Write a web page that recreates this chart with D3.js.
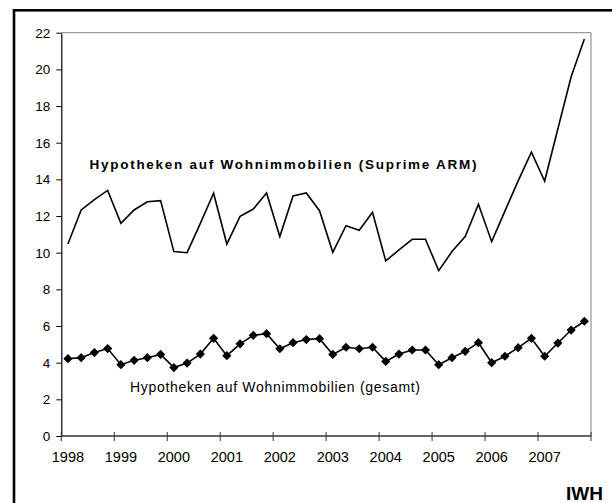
<!DOCTYPE html>
<html>
<head>
<meta charset="utf-8">
<script src="https://cdn.jsdelivr.net/npm/d3@7"></script>
<style>
  html, body { margin: 0; padding: 0; background: #fff; }
  svg { display: block; font-family: "Liberation Sans", Arial, sans-serif; }
</style>
</head>
<body>
<svg id="chart" width="612" height="503"></svg>
<script>
// ---- data ----
const years = ["1998","1999","2000","2001","2002","2003","2004","2005","2006","2007"];
const quarters = ["Q1","Q2","Q3","Q4"];
const categories = years.flatMap(y => quarters.map(q => y + q));

const subprimeARM = [
  10.47, 12.33, 12.9, 13.4, 11.6, 12.33, 12.78, 12.84,
  10.06, 10.0, 11.6, 13.24, 10.47, 11.98, 12.38, 13.26,
  10.88, 13.09, 13.26, 12.29, 10.02, 11.47, 11.22, 12.2,
  9.55, 10.15, 10.73, 10.73, 9.02, 10.06, 10.88, 12.64,
  10.6, 12.27, 13.92, 15.48, 13.91, 16.76, 19.6, 21.66
];
const gesamt = [
  4.22, 4.27, 4.55, 4.77, 3.89, 4.13, 4.27, 4.45,
  3.73, 3.98, 4.47, 5.33, 4.38, 5.03, 5.49, 5.58,
  4.76, 5.09, 5.26, 5.31, 4.45, 4.84, 4.76, 4.84,
  4.07, 4.47, 4.69, 4.69, 3.89, 4.27, 4.62, 5.09,
  4.0, 4.35, 4.82, 5.33, 4.35, 5.07, 5.78, 6.26
];
const yTicks = [0,2,4,6,8,10,12,14,16,18,20,22];
const labelSubprime = "Hypotheken auf Wohnimmobilien (Suprime ARM)";
const labelGesamt = "Hypotheken auf Wohnimmobilien (gesamt)";
const sourceLabel = "IWH";

// ---- layout ----
const svg = d3.select("#chart");
const L = 61.3, R = 591, T = 32.7, B = 436;

const x = d3.scaleBand().domain(categories).range([L, R]).padding(0);
const y = d3.scaleLinear().domain([0, 22]).range([B, T]);
const cx = c => x(c) + x.bandwidth() / 2;

// outer frame
svg.append("rect")
  .attr("x", 14).attr("y", 10.3).attr("width", 620).attr("height", 520)
  .attr("fill", "none").attr("stroke", "#000").attr("stroke-width", 2.6);

// plot frame (top & right grey)
svg.append("path")
  .attr("d", `M${L},${T}H${R}V${B}`)
  .attr("fill", "none").attr("stroke", "#808080").attr("stroke-width", 1);

// y axis
const yAxis = svg.append("g")
  .attr("transform", `translate(${L},0)`)
  .call(d3.axisLeft(y).tickValues(yTicks).tickSize(5).tickSizeOuter(0).tickPadding(6));
yAxis.select(".domain").attr("stroke", "#000").attr("stroke-width", 1.2);
yAxis.selectAll(".tick line").attr("stroke", "#000");
yAxis.selectAll("text").attr("font-size", 13.5).attr("fill", "#000")
  .attr("font-family", "Liberation Sans, Arial, sans-serif");

// x axis labels
const labelCats = categories.filter((c, i) => i % 4 === 0);
const xAxis = svg.append("g")
  .attr("transform", `translate(0,${B})`)
  .call(d3.axisBottom(x).tickValues(labelCats).tickSize(0).tickPadding(16)
    .tickFormat(c => c.slice(0, 4)));
xAxis.select(".domain").remove();
xAxis.selectAll("text").attr("font-size", 14.5).attr("fill", "#000")
  .attr("font-family", "Liberation Sans, Arial, sans-serif");

// x axis line and boundary ticks
svg.append("line")
  .attr("x1", L).attr("x2", R).attr("y1", B).attr("y2", B)
  .attr("stroke", "#333").attr("stroke-width", 1.3);
const boundaryPos = labelCats.map(c => x(c)).concat([x.range()[1]]);
svg.append("g").selectAll("line").data(boundaryPos).join("line")
  .attr("x1", d => d).attr("x2", d => d)
  .attr("y1", B - 4).attr("y2", B + 5)
  .attr("stroke", "#333").attr("stroke-width", 1);

// lines
const lineGen = d3.line().x((d, i) => cx(categories[i])).y(d => y(d));
svg.append("path").datum(subprimeARM)
  .attr("d", lineGen).attr("fill", "none")
  .attr("stroke", "#000").attr("stroke-width", 1.6).attr("stroke-linejoin", "miter");
svg.append("path").datum(gesamt)
  .attr("d", lineGen).attr("fill", "none")
  .attr("stroke", "#000").attr("stroke-width", 1.6);

// diamond markers
const r = 4.6;
svg.append("g").selectAll("path").data(gesamt).join("path")
  .attr("d", (d, i) => {
    const px = cx(categories[i]), py = y(d);
    return `M${px},${py - r}L${px + r},${py}L${px},${py + r}L${px - r},${py}Z`;
  })
  .attr("fill", "#000");

// series labels
svg.append("text")
  .attr("x", 89.5).attr("y", 168.5)
  .attr("font-size", 13.5).attr("font-weight", "bold")
  .attr("textLength", 387).attr("lengthAdjust", "spacing")
  .text(labelSubprime);
svg.append("text")
  .attr("x", 130).attr("y", 391.7)
  .attr("font-size", 14)
  .attr("textLength", 290).attr("lengthAdjust", "spacing")
  .text(labelGesamt);

// source
svg.append("text")
  .attr("x", 603).attr("y", 499.5)
  .attr("text-anchor", "end")
  .attr("font-size", 19).attr("font-weight", "bold")
  .text(sourceLabel);
</script>
</body>
</html>
